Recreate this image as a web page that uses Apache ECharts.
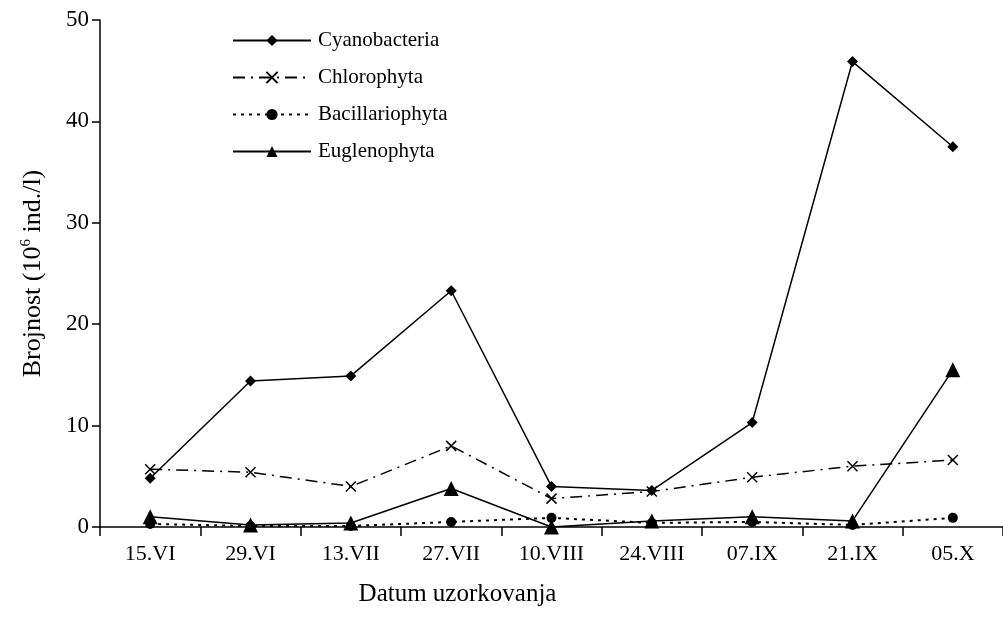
<!DOCTYPE html>
<html>
<head>
<meta charset="utf-8">
<script src="https://cdn.jsdelivr.net/npm/echarts@6/dist/echarts.min.js"></script>
<style>html,body{margin:0;padding:0;background:#fff;}#c{width:1003px;height:619px;}</style>
</head>
<body>
<div id="c"></div>
<script>
var categories = ['15.VI','29.VI','13.VII','27.VII','10.VIII','24.VIII','07.IX','21.IX','05.X'];
var cyanobacteria = [4.8, 14.4, 14.9, 23.3, 4.0, 3.6, 10.3, 45.9, 37.5];
var chlorophyta = [5.7, 5.4, 4.0, 8.0, 2.8, 3.5, 4.9, 6.0, 6.6];
var bacillariophyta = [0.3, 0.1, 0.1, 0.5, 0.9, 0.4, 0.5, 0.2, 0.9];
var euglenophyta = [1.0, 0.2, 0.4, 3.8, 0.0, 0.6, 1.0, 0.6, 15.5];
var yTicks = {min: 0, max: 50, interval: 10};

var FONT = 'Liberation Serif';
var chart = echarts.init(document.getElementById('c'));
var xPath = 'path://M0,0L10,10M10,0L0,10';
chart.setOption({
  animation: false,
  backgroundColor: '#fff',
  grid: {left: 100, right: -10, top: 20, bottom: 92},
  legend: {
    orient: 'vertical', left: 232, top: 30, padding: 0,
    itemWidth: 78, itemHeight: 14, itemGap: 16,
    textStyle: {fontFamily: FONT, fontSize: 21, color: '#000', padding: [0, 0, 0, 2]},
    data: ['Cyanobacteria','Chlorophyta','Bacillariophyta','Euglenophyta']
  },
  xAxis: {
    type: 'category', data: categories, boundaryGap: true,
    axisLine: {lineStyle: {color: '#000', width: 1.5}},
    axisTick: {show: true, inside: false, length: 9, lineStyle: {color: '#000', width: 1.5}},
    axisLabel: {fontFamily: FONT, fontSize: 22, color: '#000', margin: 16},
    name: 'Datum uzorkovanja', nameLocation: 'middle', nameGap: 55,
    nameTextStyle: {fontFamily: FONT, fontSize: 25, color: '#000', padding: [0, 188, 0, 0]}
  },
  yAxis: {
    type: 'value', min: yTicks.min, max: yTicks.max, interval: yTicks.interval,
    splitLine: {show: false},
    axisLine: {show: true, lineStyle: {color: '#000', width: 1.5}},
    axisTick: {show: true, length: 8, lineStyle: {color: '#000', width: 1.5}},
    axisLabel: {fontFamily: FONT, fontSize: 23, color: '#000', margin: 11},
    name: 'Brojnost (10{sup|6} ind./l)', nameLocation: 'middle', nameGap: 52, nameRotate: 90,
    nameTextStyle: {fontFamily: FONT, fontSize: 26, color: '#000',
      rich: {sup: {fontFamily: FONT, fontSize: 15, color: '#000', padding: [0, 0, 14, 0]}}}
  },
  series: [
    {name: 'Cyanobacteria', type: 'line', data: cyanobacteria,
     symbol: 'diamond', symbolSize: 11, showAllSymbol: true,
     lineStyle: {color: '#000', width: 1.5, type: 'solid'},
     itemStyle: {color: '#000'}, emphasis: {disabled: true}, z: 2},
    {name: 'Chlorophyta', type: 'line', data: chlorophyta,
     symbol: xPath, symbolSize: 10, showAllSymbol: true,
     lineStyle: {color: '#000', width: 1.5, type: [12, 6, 2, 6]},
     itemStyle: {color: '#fff', borderColor: '#000', borderWidth: 1.5}, emphasis: {disabled: true}, z: 3},
    {name: 'Bacillariophyta', type: 'line', data: bacillariophyta,
     symbol: 'circle', symbolSize: 10, showAllSymbol: true,
     lineStyle: {color: '#000', width: 2, type: [3, 5]},
     itemStyle: {color: '#000'}, emphasis: {disabled: true}, z: 2},
    {name: 'Euglenophyta', type: 'line', data: euglenophyta,
     symbol: 'triangle', symbolSize: 15, showAllSymbol: true,
     lineStyle: {color: '#000', width: 1.5, type: 'solid'},
     itemStyle: {color: '#000'}, emphasis: {disabled: true}, z: 4}
  ]
});
</script>
</body>
</html>
